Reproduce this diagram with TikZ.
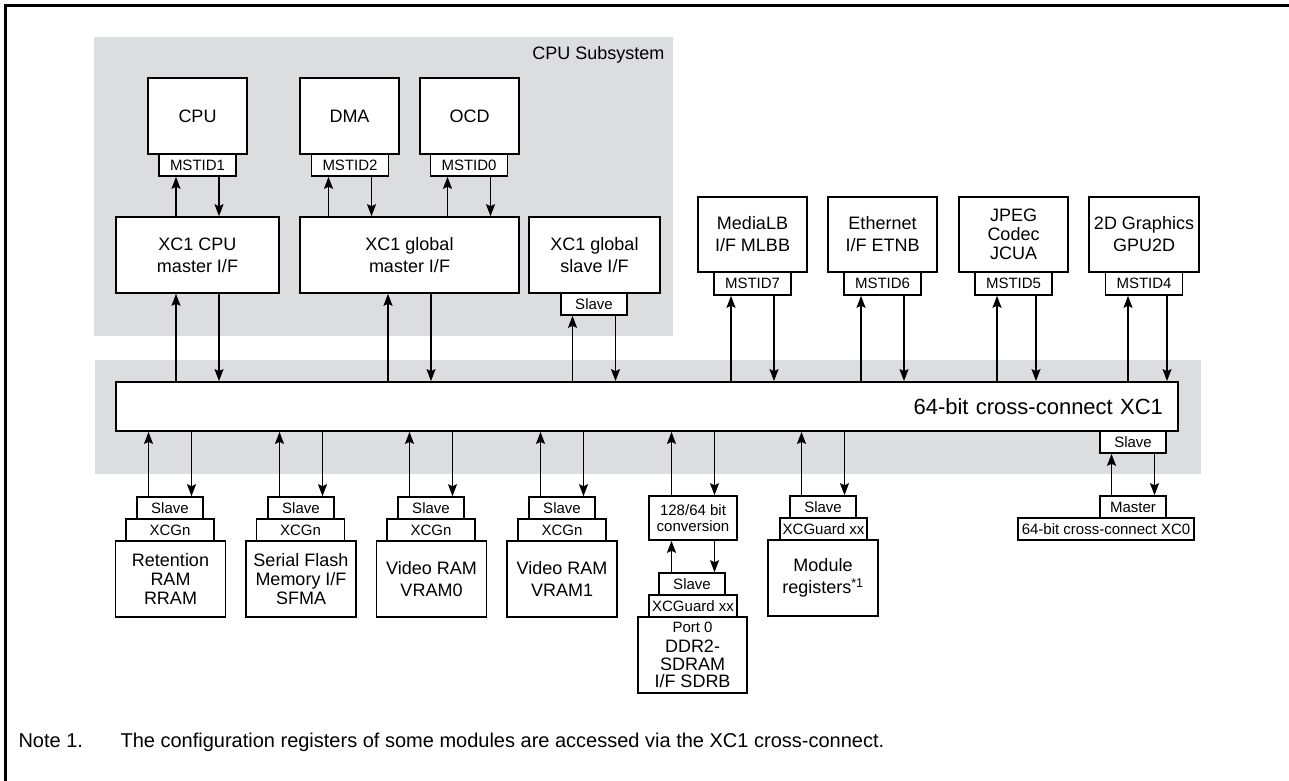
\documentclass[tikz,border=0pt]{standalone}
\usepackage{fontspec}
\setmainfont{Liberation Sans}
\usetikzlibrary{arrows.meta,calc}
\definecolor{subsysgray}{RGB}{220,221,223}
\newcommand\pairarrows[4][21.5]{%
\draw[arr] ($(#2.center |- #4.north)+(-#1,0)$) -- ($(#2.center |- #3.south)+(-#1,0)$);
\draw[arr] ($(#2.center |- #3.south)+(#1,0)$) -- ($(#2.center |- #4.north)+(#1,0)$);}

\begin{document}
\begin{tikzpicture}[x=1pt,y=-1pt,
box/.style={draw, line width=1.6pt, fill=white, inner sep=1pt, align=center, font=\fontsize{18}{22}\selectfont},
tag/.style={box, font=\fontsize{15}{16}\selectfont},
cpubox/.style={box, minimum width=99, minimum height=76},
idbox/.style={tag, minimum width=77, minimum height=22},
ipbox/.style={box, minimum width=109, minimum height=75},
slvbox/.style={tag, minimum width=66, minimum height=22},
grdbox/.style={tag, minimum width=88, minimum height=22},
membox/.style={box, minimum width=110, minimum height=76, font=\fontsize{18}{19}\selectfont},
arr/.style={line width=1.2pt, -{Stealth[length=12pt,width=9pt,inset=2pt]}}]
\useasboundingbox (0,0) rectangle (1289,780);
\draw[line width=3pt] (5,800) -- (5,5.5) -- (1300,5.5);
\fill[subsysgray] (94,37) rectangle (673,336);
\fill[subsysgray] (95,360) rectangle (1201,474);
\node[anchor=east, font=\fontsize{18}{22}\selectfont] (cpusub) at (668,55) {CPU Subsystem};
\node[cpubox] (cpu) at (197.5,116) {CPU};
\node[cpubox] (dma) at (349.5,116) {DMA};
\node[cpubox] (ocd) at (469.5,116) {OCD};
\node[idbox] (mst1) at (197.5,165) {MSTID1};
\node[idbox] (mst2) at (350,165) {MSTID2};
\node[idbox] (mst0) at (469,165) {MSTID0};
\node[box, minimum width=163, minimum height=76] (xcpu) at (197.5,255) {XC1 CPU\\master I/F};
\node[box, minimum width=219, minimum height=76] (xgm) at (409.5,255) {XC1 global\\master I/F};
\node[box, minimum width=131, minimum height=76] (xgs) at (594.5,255) {XC1 global\\slave I/F};
\node[slvbox] (xgsslv) at (594,304) {Slave};
\node[ipbox] (mlb) at (752.5,234.5) {MediaLB\\I/F MLBB};
\node[ipbox] (etn) at (882.5,234.5) {Ethernet\\I/F ETNB};
\node[ipbox, font=\fontsize{18}{19}\selectfont] (jcu) at (1013.5,234.5) {JPEG\\Codec\\JCUA};
\node[ipbox, minimum width=110] (gpu) at (1144,234.5) {2D Graphics\\GPU2D};
\node[idbox, minimum height=23] (mst7) at (752.5,283.5) {MSTID7};
\node[idbox, minimum height=23] (mst6) at (882.5,283.5) {MSTID6};
\node[idbox, minimum height=23] (mst5) at (1013.5,283.5) {MSTID5};
\node[idbox, minimum height=23] (mst4) at (1144,283.5) {MSTID4};
\node[box, line width=1.8pt, minimum height=49, inner xsep=15pt, text width=1032, align=right,
  font=\fontsize{22}{26}\selectfont] (bar) at (647,406.5) {64-bit cross-connect XC1};
\node[slvbox] (xc1slv) at (1133,442) {Slave};
\node[slvbox] (xc0mst) at (1133,507) {Master};
\node[tag, minimum width=176, minimum height=22] (xc0) at (1106,529) {64-bit cross-connect XC0};
\node[slvbox] (rslv) at (170,508) {Slave};
\node[grdbox] (rgrd) at (170,530) {XCGn};
\node[membox] (rram) at (170.5,579) {Retention\\RAM\\RRAM};
\node[slvbox] (fslv) at (301,508) {Slave};
\node[grdbox] (fgrd) at (300.5,530) {XCGn};
\node[membox] (sfma) at (301,579) {Serial Flash\\Memory I/F\\SFMA};
\node[slvbox] (v0slv) at (431,508) {Slave};
\node[grdbox] (v0grd) at (431,530) {XCGn};
\node[membox, font=\fontsize{18}{22}\selectfont] (vram0) at (431.5,579) {Video RAM\\VRAM0};
\node[slvbox] (v1slv) at (562,508) {Slave};
\node[grdbox] (v1grd) at (562,530) {XCGn};
\node[membox, font=\fontsize{18}{22}\selectfont] (vram1) at (562,579) {Video RAM\\VRAM1};
\node[tag, minimum width=88, minimum height=44] (conv) at (693,518) {128/64 bit\\conversion};
\node[slvbox] (dslv) at (692,584) {Slave};
\node[grdbox] (dgrd) at (693,606) {XCGuard xx};
\node[membox, minimum width=109, font=\fontsize{18}{17.5}\selectfont] (ddr) at (692.5,655)
  {{\fontsize{15}{16}\selectfont Port 0}\\[3pt]DDR2-\\SDRAM\\I/F SDRB};
\node[slvbox] (regslv) at (823,507) {Slave};
\node[grdbox, minimum width=87] (reggrd) at (823.5,529) {XCGuard xx};
\node[membox, font=\fontsize{18}{22}\selectfont] (regs) at (823,578) {Module\\registers\textsuperscript{*1}};
\pairarrows{mst1}{mst1}{xcpu}
\pairarrows{mst2}{mst2}{xgm}
\pairarrows{mst0}{mst0}{xgm}
\pairarrows{xcpu}{xcpu}{bar}
\pairarrows{xgm}{xgm}{bar}
\pairarrows{xgsslv}{xgsslv}{bar}
\pairarrows{mst7}{mst7}{bar}
\pairarrows{mst6}{mst6}{bar}
\coordinate (m5) at ($(mst5)+(3,0)$);
\pairarrows[19.5]{m5}{mst5}{bar}
\coordinate (m4) at ($(mst4)+(3.5,0)$);
\pairarrows[19.5]{m4}{mst4}{bar}
\pairarrows{rslv}{bar}{rslv}
\pairarrows{fslv}{bar}{fslv}
\pairarrows{v0slv}{bar}{v0slv}
\pairarrows{v1slv}{bar}{v1slv}
\pairarrows{conv}{bar}{conv}
\pairarrows{conv}{conv}{dslv}
\pairarrows{regslv}{bar}{regslv}
\pairarrows{xc1slv}{xc1slv}{xc0mst}
\node[anchor=base west, font=\fontsize{20}{24}\selectfont] (note) at (15,747) {Note 1.};
\node[anchor=base west, font=\fontsize{20}{24}\selectfont] (notetxt) at (117,747)
  {The configuration registers of some modules are accessed via the XC1 cross-connect.};
\end{tikzpicture}
\end{document}
